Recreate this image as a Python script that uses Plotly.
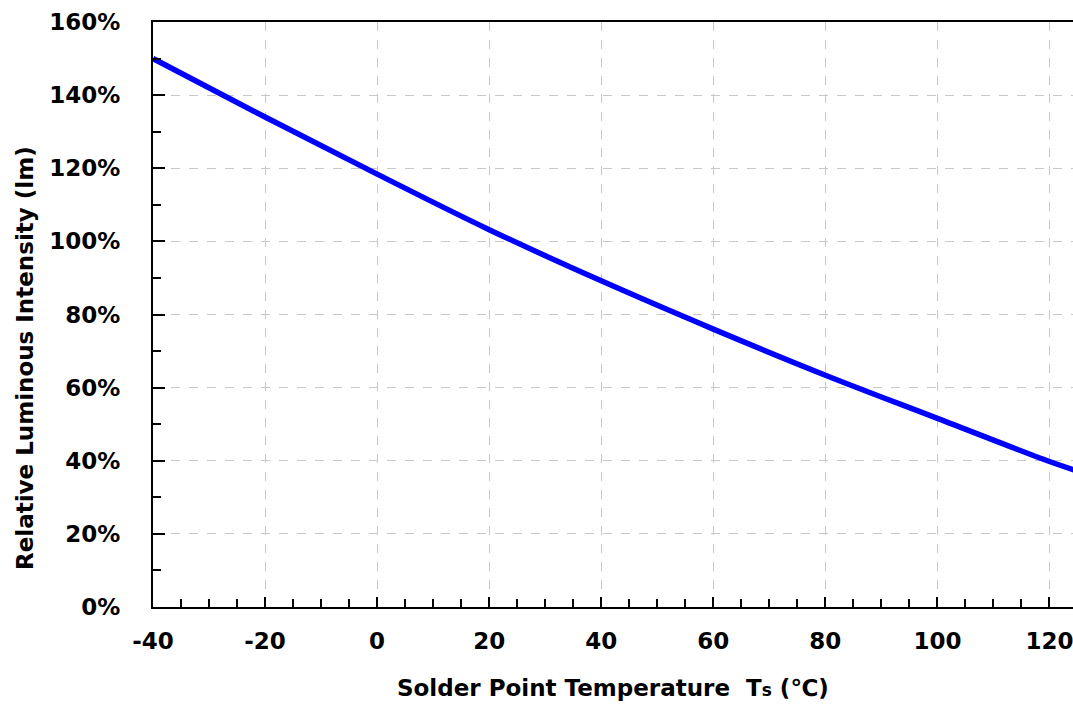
import plotly.graph_objects as go

# Data
temperature = [-40, -20, 0, 20, 40, 60, 80, 100, 120, 125]
relative_intensity = [150, 134, 118.4, 103.2, 89.2, 76.0, 63.4, 51.6, 39.8, 37.2]

x_ticks = [-40, -20, 0, 20, 40, 60, 80, 100, 120]
y_ticks = [0, 20, 40, 60, 80, 100, 120, 140, 160]

W, H = 1073, 705
ML, MR, MT, MB = 153, 0, 22, 98

fig = go.Figure()
fig.add_trace(go.Scatter(
    x=temperature, y=relative_intensity, mode="lines",
    line=dict(color="#0000ff", width=5.5, shape="spline", smoothing=1.0),
    showlegend=False, hoverinfo="skip",
))

tickfont = dict(family="DejaVu Sans", size=23, color="#000000")
grid = dict(showgrid=True, gridcolor="#c8c8c8", griddash="dash", gridwidth=1)

fig.update_xaxes(
    range=[-40, 124.2], tickvals=x_ticks, ticktext=[f"<b>{v}</b>" for v in x_ticks],
    tickfont=tickfont, ticks="inside", ticklen=10, tickwidth=1.5, tickcolor="#000",
    showline=True, linecolor="#000", linewidth=2, mirror=True,
    minor=dict(dtick=5, tick0=0, ticks="inside", ticklen=8, tickwidth=1.5, tickcolor="#000", showgrid=False),
    zeroline=False, ticklabelstandoff=12, automargin=False, ticklabeloverflow="allow", **grid,
)
fig.update_yaxes(
    range=[0, 160], tickvals=y_ticks, ticktext=[f"<b>{v}%</b>" for v in y_ticks],
    tickfont=tickfont, ticks="inside", ticklen=12, tickwidth=1.5, tickcolor="#000",
    showline=True, linecolor="#000", linewidth=2, mirror=False,
    minor=dict(dtick=10, tick0=0, ticks="inside", ticklen=8, tickwidth=1.5, tickcolor="#000", showgrid=False),
    zeroline=False, ticklabelstandoff=26, automargin=False, ticklabeloverflow="allow", **grid,
)

fig.add_annotation(
    xref="paper", yref="paper", x=(613 - ML) / (W - ML - MR), y=(H - MB - 688) / (H - MT - MB),
    text="<b>Solder Point Temperature  T<span style='font-size:17px'>s</span> (℃)</b>",
    showarrow=False, font=dict(family="DejaVu Sans", size=23, color="#000"),
    xanchor="center", yanchor="middle",
)
fig.add_annotation(
    xref="paper", yref="paper", x=(25 - ML) / (W - ML - MR), y=(H - MB - 358) / (H - MT - MB),
    text="<b>Relative Luminous Intensity (lm)</b>", textangle=-90,
    showarrow=False, font=dict(family="DejaVu Sans", size=23, color="#000"),
    xanchor="center", yanchor="middle",
)

fig.update_layout(
    width=W, height=H, margin=dict(l=ML, r=MR, t=MT, b=MB, autoexpand=False),
    paper_bgcolor="#ffffff", plot_bgcolor="#ffffff",
)
fig.write_html("out.html", config={"displayModeBar": False},
               post_script="document.body.style.margin='0';document.body.style.overflow='hidden';")
